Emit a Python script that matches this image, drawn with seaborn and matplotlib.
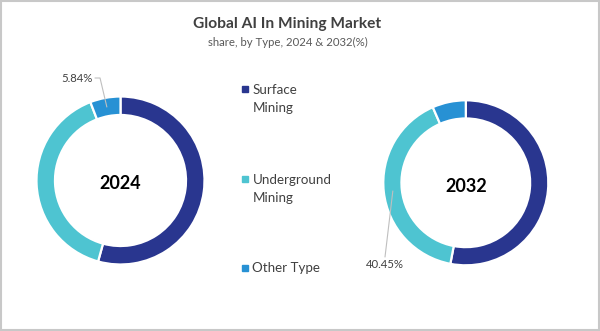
import numpy as np
import matplotlib
matplotlib.use("Agg")
import matplotlib.pyplot as plt
from matplotlib.patches import Rectangle
import seaborn as sns

# Market share by type (%)
types = ["Surface Mining", "Underground Mining", "Other Type"]
legend_labels = [["Surface", "Mining"], ["Underground", "Mining"], ["Other Type"]]
share_2024 = [54.30, 39.86, 5.84]
share_2032 = [53.00, 40.45, 6.55]
years = ["2024", "2032"]

sns.set_theme(style="white")
plt.rcParams["font.family"] = ["Lato", "DejaVu Sans"]

colors = sns.color_palette(["#29368f", "#4ec4d1", "#2791d4"])

W, H = 600, 331
fig = plt.figure(figsize=(W / 100, H / 100), dpi=100)
fig.patch.set_facecolor("white")


def px_axes(cx, cy, r, half=95):
    """Axes centred on pixel (cx, cy) where one data unit equals r pixels."""
    ax = fig.add_axes([(cx - half) / W, 1 - (cy + half) / H, 2 * half / W, 2 * half / H])
    ax.axis("off")
    return ax


def donut(ax, values, year, r, half=95):
    wedges, _ = ax.pie(values, colors=colors, startangle=90, counterclock=False,
                       radius=1.0,
                       wedgeprops=dict(width=0.22, edgecolor="white", linewidth=1.6))
    lim = half / r
    ax.set_xlim(-lim, lim)
    ax.set_ylim(-lim, lim)
    ax.set_aspect("equal")
    ax.text(0, -0.04, year, ha="center", va="center", fontsize=13,
            fontweight="bold", color="black")
    return wedges


def mid_point(wedge, rad=0.89):
    ang = np.deg2rad((wedge.theta1 + wedge.theta2) / 2)
    return rad * np.cos(ang), rad * np.sin(ang)


# 2024 donut
ax1 = px_axes(120.5, 180.5, 84)
w1 = donut(ax1, share_2024, years[0], 84)
x0, y0 = mid_point(w1[2])
tx, ty = (95 - 120.5) / 84, (180.5 - 78) / 84
ax1.plot([x0, tx + 0.06, tx], [y0, ty, ty], color="#bfbfbf", lw=0.8,
         clip_on=False)
ax1.text(tx - 0.03, ty, f"{share_2024[2]:.2f}%", ha="right", va="center",
         fontsize=8.2, color="#404040")

# 2032 donut
ax2 = px_axes(465.8, 182.8, 82.5)
w2 = donut(ax2, share_2032, years[1], 82.5)
x0, y0 = mid_point(w2[1])
tx, ty = (385 - 465.8) / 82.5, (182.8 - 257) / 82.5
ax2.plot([x0, tx], [y0, ty], color="#bfbfbf", lw=0.8, clip_on=False)
ax2.text(tx, ty - 0.03, f"{share_2032[1]:.2f}%", ha="center", va="top",
         fontsize=8.2, color="#404040")

# Titles
fig.text(287 / W, 1 - 24 / H, "Global AI In Mining Market", ha="center",
         va="center", fontsize=11.2, fontweight="bold", color="#404040")
fig.text(288 / W, 1 - 42 / H, "share, by Type, 2024 & 2032(%)", ha="center",
         va="center", fontsize=8.2, color="#595959")

# Legend: square marker plus label lines, first line level with the marker
legend_y = [89, 179, 267.5]
for lines, c, y in zip(legend_labels, colors, legend_y):
    fig.patches.append(Rectangle((241.5 / W, 1 - (y + 3) / H), 6 / W, 6 / H,
                                 transform=fig.transFigure, color=c))
    for i, line in enumerate(lines):
        fig.text(252.5 / W, 1 - (y + 4.5 + 18.5 * i) / H, line, ha="left",
                 va="baseline", fontsize=9.6, color="#404040")

# Outer frame
fig.patches.append(Rectangle((0.001, 0.002), 0.997, 0.995, transform=fig.transFigure,
                             fill=False, edgecolor="#c8c8c8", linewidth=1.5))

fig.savefig("out.png", dpi=100)
